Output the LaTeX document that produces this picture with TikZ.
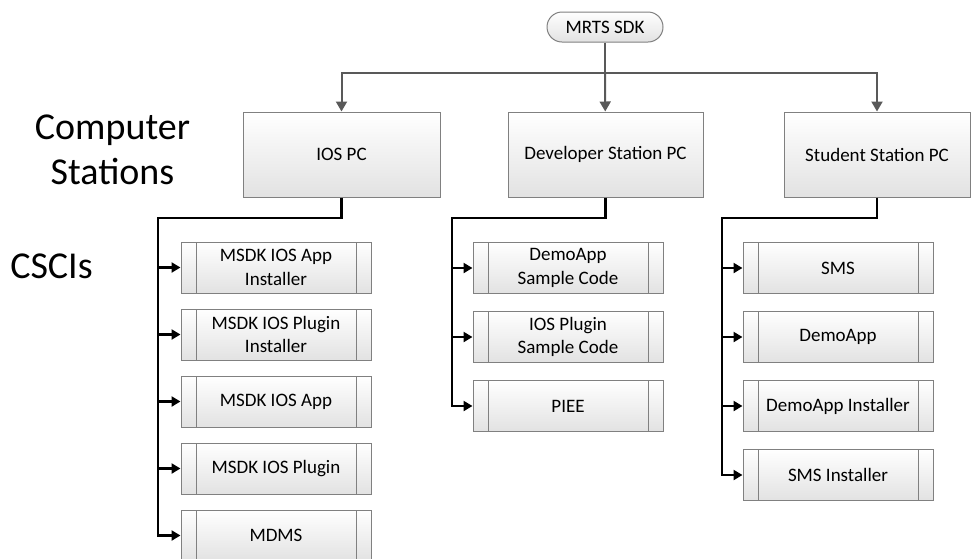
\documentclass[tikz,border=0pt]{standalone}
\usepackage{fontspec}
\setmainfont{Carlito}
\usetikzlibrary{arrows.meta,positioning,calc}
\definecolor{linegray}{RGB}{89,89,89}
\definecolor{edgegray}{RGB}{128,128,128}
\definecolor{shade}{RGB}{226,226,226}
\tikzset{
  feed/.style={-{Triangle[width=11pt,length=10pt]},line width=2pt,draw=linegray},
  link/.style={-{Triangle[width=10pt,length=9pt]},line width=2.6pt,draw=black},
  stationbox/.style={draw=edgegray,line width=1pt,top color=white,bottom color=shade,
              align=center,minimum width=197pt,minimum height=85pt,inner sep=0pt},
  rootbox/.style={stationbox,rounded corners=15pt,minimum width=116pt,minimum height=30pt},
  cscibox/.style={stationbox,minimum width=190pt,minimum height=51pt,
    path picture={\draw[edgegray,line width=1pt]
      ([xshift=15pt]path picture bounding box.north west) -- ([xshift=15pt]path picture bounding box.south west)
      ([xshift=-15pt]path picture bounding box.north east) -- ([xshift=-15pt]path picture bounding box.south east);}},
  biglabel/.style={font=\fontsize{38}{45}\selectfont,align=center,inner sep=0pt}
}
\begin{document}
\begin{tikzpicture}[x=1pt,y=-1pt,font=\fontsize{19}{23.5}\selectfont,node distance=15pt]
  \useasboundingbox (0,0) rectangle (971,558);
  % side labels
  \node[biglabel] (stations) at (112.5,150) {Computer\\Stations};
  \node[biglabel] (cscis) at (51.5,266.5) {CSCIs};
  % root and stations
  \node[rootbox] (sdk) at (605,27) {MRTS SDK};
  \node[stationbox] (ios) at (341.5,154.5) {IOS PC};
  \node[stationbox,minimum width=195pt] (dev) at (605.5,154.5) {Developer Station PC};
  \node[stationbox,minimum width=186pt] (stu) at (877,154.5) {Student Station PC};
  \coordinate (hub) at (605,73);
  \draw[line width=2pt,draw=linegray] (sdk) -- (hub);
  \draw[feed] (hub) -| (ios);
  \draw[feed] (hub) -- (dev);
  \draw[feed] (hub) -| (stu);
  % IOS PC CSCIs
  \node[cscibox] (i1) at (276,267.5) {MSDK IOS App\\Installer};
  \node[cscibox,below=of i1] (i2) {MSDK IOS Plugin\\Installer};
  \node[cscibox,below=of i2] (i3) {MSDK IOS App};
  \node[cscibox,below=of i3] (i4) {MSDK IOS Plugin};
  \node[cscibox,below=of i4] (i5) {MDMS};
  \coordinate (iosbus) at (158,218);
  \draw[link] (ios.south) |- (iosbus) |- (i5);
  \foreach \n in {i1,i2,i3,i4} \draw[link] (iosbus |- \n) -- (\n);
  % Developer Station PC CSCIs
  \node[cscibox] (d1) at (568,268) {DemoApp\\Sample Code};
  \node[cscibox,below=17pt of d1] (d2) {IOS Plugin\\Sample Code};
  \node[cscibox,below=17pt of d2] (d3) {PIEE};
  \coordinate (devbus) at (452,218);
  \draw[link] (dev.south) |- (devbus) |- (d3);
  \foreach \n in {d1,d2} \draw[link] (devbus |- \n) -- (\n);
  % Student Station PC CSCIs
  \node[cscibox] (s1) at (838,268) {SMS};
  \node[cscibox,below=17pt of s1] (s2) {DemoApp};
  \node[cscibox,below=17pt of s2] (s3) {DemoApp Installer};
  \node[cscibox,below=17pt of s3] (s4) {SMS Installer};
  \coordinate (stubus) at (722,218);
  \draw[link] (stu.south) |- (stubus) |- (s4);
  \foreach \n in {s1,s2,s3} \draw[link] (stubus |- \n) -- (\n);
\end{tikzpicture}
\end{document}
